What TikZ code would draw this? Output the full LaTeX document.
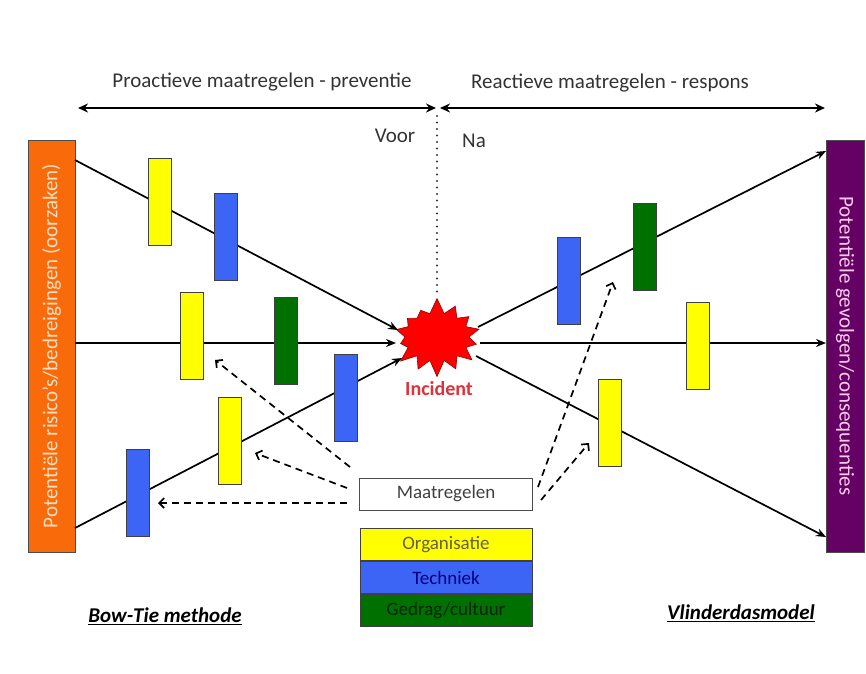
\documentclass[tikz,border=0pt]{standalone}
\usepackage{fontspec}
\setmainfont{Carlito}
\usetikzlibrary{positioning,arrows.meta,shapes.symbols}
\definecolor{riskorange}{HTML}{F96A0B}
\definecolor{effectpurple}{HTML}{650064}
\definecolor{orgyellow}{HTML}{FFFF00}
\definecolor{techblue}{HTML}{3C64F5}
\definecolor{gedraggreen}{HTML}{007000}
\definecolor{labelgray}{HTML}{333333}
\definecolor{incidentred}{HTML}{E0303A}

\begin{document}
\begin{tikzpicture}
[
    x=1pt, y=-1pt,
    every node/.style={font=\fontsize{21}{25}\selectfont},
    small/.style={font=\fontsize{19}{23}\selectfont},
    bar/.style={draw=black!75, line width=0.8pt, minimum width=23pt, minimum height=87pt, inner sep=0pt},
    side/.style={draw=black!70, line width=0.8pt, inner sep=0pt},
    legend/.style={small, draw=black!75, line width=0.8pt, minimum width=172pt, minimum height=32pt, inner sep=0pt},
    flow/.style={line width=1.7pt, -{Stealth[length=10pt,width=8pt]}},
    hint/.style={line width=1.7pt, dash pattern=on 7pt off 5pt, -{Straight Barb[length=5pt,width=10pt]}},
    span/.style={line width=1.8pt, {Stealth[length=10pt,width=9pt]}-{Stealth[length=10pt,width=9pt]}},
]
\useasboundingbox (0,0) rectangle (866,673);

\node[text=labelgray] (proactive) at (262,82) {Proactieve maatregelen - preventie};
\node[text=labelgray] (reactive) at (610,83) {Reactieve maatregelen - respons};
\coordinate (spanl) at (78,108);
\coordinate (spanml) at (436,108);
\coordinate (spanmr) at (440,108);
\coordinate (spanr) at (825,108);
\draw[span] (spanl) -- (spanml);
\draw[span] (spanmr) -- (spanr);
\node[text=labelgray] (before) at (395,136) {Voor};
\node[text=labelgray] (after) at (474,141) {Na};

\node[side, fill=riskorange, minimum width=47pt, minimum height=412pt] (risks) at (51.5,346)
{\rotatebox{90}{\color{orange!25}Potentiële risico’s/bedreigingen (oorzaken)}};
\node[side, fill=effectpurple, minimum width=38pt, minimum height=412pt] (effects) at (845,346)
{\rotatebox{-90}{\color{magenta!20}Potentiële gevolgen/consequenties}};

\node[starburst, fill=red, draw=red!60!black, line width=0.6pt, minimum width=96pt, minimum height=80pt,
    inner sep=0pt, starburst points=14, starburst point height=16pt, random starburst=7] (incident) at (437,337) {};
\node[text=incidentred, font=\fontsize{20}{24}\selectfont\bfseries] (incidentlabel) at (439,389) {Incident};
\coordinate (voorna) at (437,116);
\draw[black!80, line width=2.2pt, line cap=round, dash pattern=on 0pt off 6.5pt] (voorna) -- (incident.north);

\coordinate (r1) at (75,160);
\coordinate (r2) at (75,343);
\coordinate (r3) at (75,528);
\coordinate (i1) at (398,330);
\coordinate (i2) at (396,343);
\coordinate (i3) at (402,358);
\coordinate (o1) at (478,327);
\coordinate (o2) at (480,343);
\coordinate (o3) at (476,356);
\coordinate (e1) at (826,151);
\coordinate (e2) at (826,343);
\coordinate (e3) at (826,537);
\draw[flow] (r1) -- (i1);
\draw[flow] (r2) -- (i2);
\draw[flow] (r3) -- (i3);
\draw[flow] (o1) -- (e1);
\draw[flow] (o2) -- (e2);
\draw[flow] (o3) -- (e3);

\node[bar, fill=orgyellow] (org1) at (159.5,202) {};
\node[bar, fill=techblue] (tech1) at (225.5,236.5) {};
\node[bar, fill=orgyellow] (org2) at (191.5,336) {};
\node[bar, fill=gedraggreen] (gedrag1) at (286,340.5) {};
\node[bar, fill=techblue] (tech2) at (345.5,398) {};
\node[bar, fill=orgyellow] (org3) at (229.5,441) {};
\node[bar, fill=techblue] (tech3) at (137.5,493) {};
\node[bar, fill=techblue] (tech4) at (568.5,281) {};
\node[bar, fill=gedraggreen] (gedrag2) at (645,246.5) {};
\node[bar, fill=orgyellow] (org4) at (697.5,346) {};
\node[bar, fill=orgyellow] (org5) at (610,423) {};

\node[small, draw=black!70, line width=0.8pt, minimum width=173pt, minimum height=32pt, inner sep=0pt,
    text=black!75] (measures) at (446,494) {Maatregelen};
\node[legend, fill=orgyellow, text=yellow!30!black, below=18pt of measures] (organisatie) {Organisatie};
\node[legend, fill=techblue, text=blue!50!black, below=0pt of organisatie] (techniek) {Techniek};
\node[legend, fill=gedraggreen, text=green!15!black, below=0pt of techniek] (gedrag) {Gedrag/cultuur};

\coordinate (m1) at (350,467);
\coordinate (m2) at (347,488);
\coordinate (m3) at (347,503);
\coordinate (m4) at (538,487);
\coordinate (m5) at (541,500);
\coordinate (t1) at (215,360);
\coordinate (t2) at (255,453);
\coordinate (t3) at (158,503);
\coordinate (t4) at (613,282);
\coordinate (t5) at (589,443);
\draw[hint] (m1) -- (t1);
\draw[hint] (m2) -- (t2);
\draw[hint] (m3) -- (t3);
\draw[hint] (m4) -- (t4);
\draw[hint] (m5) -- (t5);

\node[font=\fontsize{21}{25}\selectfont\bfseries\itshape] (bowtie) at (165,616) {\underline{Bow-Tie methode}};
\node[font=\fontsize{21}{25}\selectfont\bfseries\itshape] (vlinder) at (741,613) {\underline{Vlinderdasmodel}};
\end{tikzpicture}
\end{document}
